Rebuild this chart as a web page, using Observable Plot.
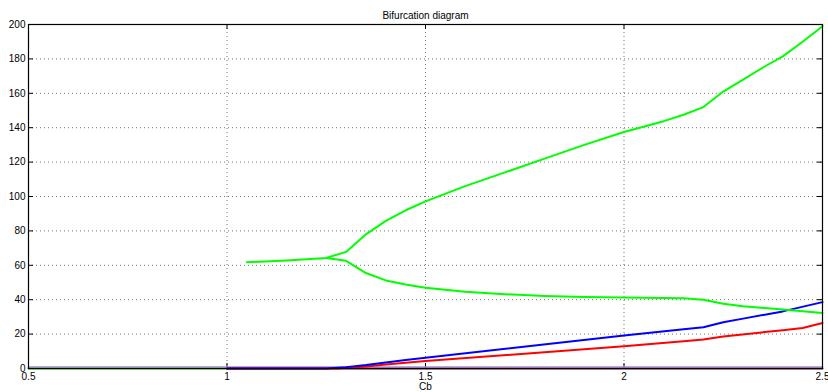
<!DOCTYPE html>
<html>
<head>
<meta charset="utf-8">
<script src="https://cdn.jsdelivr.net/npm/d3@7"></script>
<script src="https://cdn.jsdelivr.net/npm/@observablehq/plot@0.6"></script>
<style>
  html, body { margin: 0; padding: 0; background: #fff; }
  #chart svg { display: block; }
</style>
</head>
<body>
<div id="chart"></div>
<script>
// ---- data ----
const upperCb   = [1.05, 1.15, 1.25, 1.3, 1.35, 1.4, 1.45, 1.5, 1.6, 1.7, 1.8, 1.9, 2.0, 2.1, 2.15, 2.2, 2.25, 2.3, 2.35, 2.4, 2.45, 2.5];
const upperVal  = [61.8, 62.8, 64.3, 67.8, 78.0, 85.8, 92.0, 97.2, 106.0, 114.0, 122.0, 130.0, 137.5, 143.8, 147.5, 152.0, 161.0, 168.0, 175.0, 181.5, 190.0, 199.0];
const lowerCb   = [1.25, 1.3, 1.35, 1.4, 1.45, 1.5, 1.6, 1.7, 1.8, 1.9, 2.0, 2.1, 2.15, 2.2, 2.25, 2.3, 2.4, 2.5];
const lowerVal  = [64.3, 62.6, 55.5, 51.2, 48.8, 47.0, 44.6, 43.2, 42.2, 41.6, 41.3, 41.0, 40.9, 40.0, 37.6, 36.2, 34.3, 32.3];
const blueCb    = [1.0, 1.25, 1.3, 1.35, 1.4, 1.45, 1.5, 2.0, 2.15, 2.2, 2.25, 2.3, 2.4, 2.5];
const blueVal   = [0, 0, 0.8, 2.0, 3.5, 5.0, 6.2, 19.2, 22.8, 24.0, 26.9, 29.0, 33.2, 38.6];
const redCb     = [1.0, 1.28, 1.3, 1.35, 1.4, 1.45, 1.5, 2.0, 2.15, 2.2, 2.25, 2.4, 2.45, 2.5];
const redVal    = [0, 0, 0.4, 1.2, 2.3, 3.4, 4.3, 13.0, 15.8, 16.8, 18.6, 22.3, 23.5, 26.5];
const zeroGreenCb  = [0.5, 1.0];
const zeroLavCb    = [0.5, 2.5];
const zeroDarkCb   = [1.0, 2.5];
const zeroVal2     = [0, 0];

const xTicks = [0.5, 1, 1.5, 2, 2.5];
const xTickLabels = ["0.5", "1", "1.5", "2", "2.5"];
const yTicks = [0, 20, 40, 60, 80, 100, 120, 140, 160, 180, 200];
const xGrid = [1, 1.5, 2];
const yGrid = [20, 40, 60, 80, 100, 120, 140, 160, 180];

const titleText = "Bifurcation diagram";
const xLabel = "Cb";

// ---- build ----
const pts = (xs, ys) => xs.map((x, i) => ({x, y: ys[i]}));
const W = 828, H = 392;
const mL = 28, mR = 6, mT = 24, mB = 24;
const innerW = W - mL - mR, innerH = H - mT - mB;
const font = "Liberation Sans, Arial, Helvetica, sans-serif";
const xFmt = d => xTickLabels[xTicks.indexOf(d)];

const chart = Plot.plot({
  width: W,
  height: H,
  marginLeft: mL, marginRight: mR, marginTop: mT, marginBottom: mB,
  style: {fontFamily: font, fontSize: "10px", color: "#000", background: "#fff"},
  x: {domain: [0.5, 2.5]},
  y: {domain: [0, 200]},
  marks: [
    // dotted grid
    Plot.ruleX(xGrid, {stroke: "#000", strokeOpacity: 0.55, strokeDasharray: "1,3", strokeWidth: 1}),
    Plot.ruleY(yGrid, {stroke: "#000", strokeOpacity: 0.55, strokeDasharray: "1,3", strokeWidth: 1}),
    // axes labels
    Plot.axisX(xTicks, {tickSize: 0, tickPadding: 4, label: null, fontSize: 10, tickFormat: xFmt}),
    Plot.axisY(yTicks, {tickSize: 0, tickPadding: 3, label: null, fontSize: 10}),
    // inward ticks
    Plot.tickY(yTicks, {y: d => d, insetRight: innerW - 5, stroke: "#000"}),
    Plot.tickY(yTicks, {y: d => d, insetLeft: innerW - 5, stroke: "#000"}),
    Plot.tickX(xTicks, {x: d => d, insetTop: innerH - 5, stroke: "#000"}),
    Plot.tickX(xTicks, {x: d => d, insetBottom: innerH - 5, stroke: "#000"}),
    // series at zero
    Plot.line(pts(zeroGreenCb, zeroVal2), {x: "x", y: "y", stroke: "#00c000", strokeWidth: 2}),
    Plot.line(pts(zeroDarkCb, zeroVal2), {x: "x", y: "y", stroke: "#800040", strokeWidth: 2}),
    Plot.line(pts(zeroLavCb, zeroVal2), {x: "x", y: "y", stroke: "#a58fd0", strokeWidth: 1.5, dy: -1.5}),
    // main series
    Plot.line(pts(redCb, redVal), {x: "x", y: "y", stroke: "#ff0000", strokeWidth: 2, curve: "linear"}),
    Plot.line(pts(blueCb, blueVal), {x: "x", y: "y", stroke: "#0000ff", strokeWidth: 2, curve: "linear"}),
    Plot.line(pts(lowerCb, lowerVal), {x: "x", y: "y", stroke: "#00ff00", strokeWidth: 2, curve: "linear"}),
    Plot.line(pts(upperCb, upperVal), {x: "x", y: "y", stroke: "#00ff00", strokeWidth: 2, curve: "linear"}),
    // frame
    Plot.frame({stroke: "#000", strokeWidth: 1.2}),
    // title and x label
    Plot.text([titleText], {frameAnchor: "top", dy: -13, fontSize: 10, fill: "#000"}),
    Plot.text([xLabel], {frameAnchor: "bottom", dy: 21, fontSize: 10, fill: "#000"})
  ]
});
document.getElementById("chart").appendChild(chart);
</script>
</body>
</html>
